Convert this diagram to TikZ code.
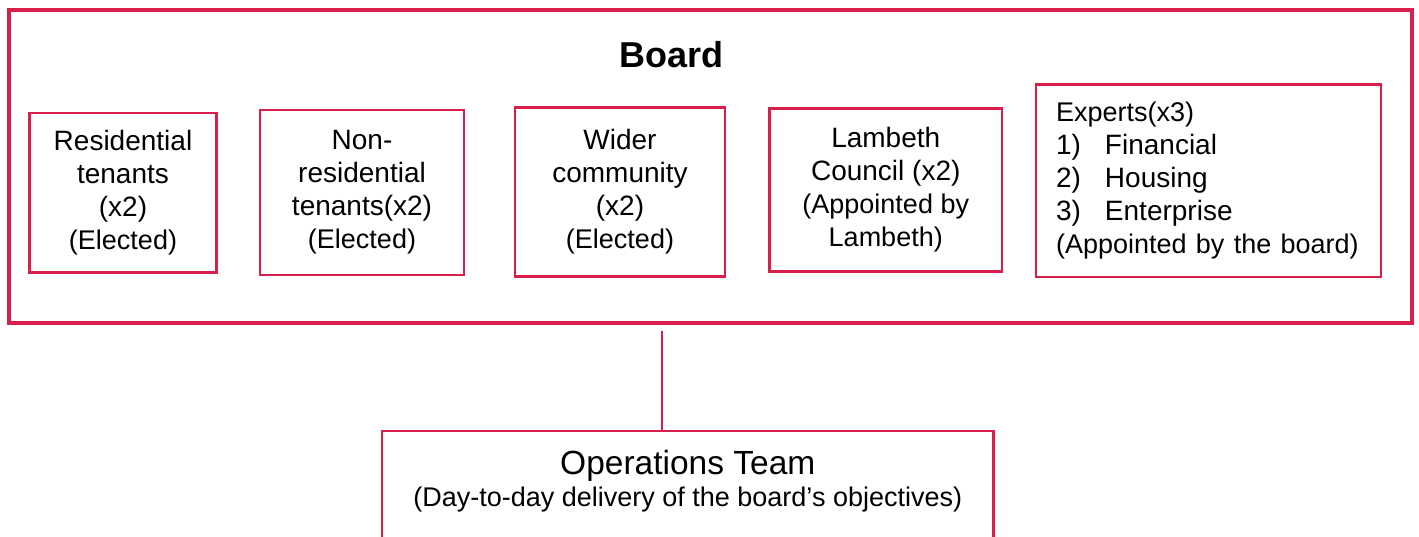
\documentclass[tikz,border=0pt]{standalone}
\usepackage{fontspec}
\setmainfont{Liberation Sans}

\definecolor{boardred}{RGB}{215,32,76}
\newcommand{\subtxt}[1]{{\fontsize{27}{33}\selectfont #1}}

\tikzset{
  seat/.style={draw=boardred, line width=2.8pt, align=center, inner sep=0pt, font=\fontsize{28}{33}\selectfont},
  outerbox/.style={draw=boardred, line width=3.5pt, inner sep=0pt},
  link/.style={draw=boardred, line width=2.5pt}
}

\begin{document}
\begin{tikzpicture}[x=1pt,y=-1pt]

%SPACING
\useasboundingbox (0,0) rectangle (1419,536);
%SPACING

\node[outerbox, minimum width=1403pt, minimum height=313pt](board) at (710.5,166.5) {};
\node[anchor=base, font=\fontsize{36}{40}\selectfont\bfseries](title) at (671.5,67) {Board};

\node[seat, minimum width=187pt, minimum height=159.5pt](v1) at (123,192.75) {Residential\\tenants\\(x2)\\\subtxt{(Elected)}};
\node[seat, minimum width=204pt, minimum height=165pt](v2) at (362,192.5) {Non-\\residential\\tenants(x2)\\\subtxt{(Elected)}};
\node[seat, minimum width=210pt, minimum height=169pt](v3) at (620,192) {Wider\\community\\(x2)\\\subtxt{(Elected)}};
\node[seat, minimum width=232.5pt, minimum height=163pt](v4) at (885.75,190) {Lambeth\\Council (x2)\\\subtxt{(Appointed by}\\\subtxt{Lambeth)}};
\node[seat, align=left, text width=305pt, inner xsep=20pt, minimum height=192.5pt](v5) at (1208.5,180.75) {\subtxt{Experts(x3)}\\\makebox[49pt][l]{1)}Financial\\\makebox[49pt][l]{2)}Housing\\\makebox[49pt][l]{3)}Enterprise\\\subtxt{(Appointed by the board)}};

%OPERATIONS
\node[seat, line width=2.7pt, anchor=north, minimum width=611.5pt, inner ysep=19pt](ops) at (687.75,429.7) {{\fontsize{33.5}{32}\selectfont Operations Team}\\[-1pt]\subtxt{(Day-to-day delivery of the board's objectives)}\rule[-60pt]{0pt}{0pt}};

\coordinate (tap) at (662,331);
\draw[link] (tap) -- (tap |- ops.north);

\end{tikzpicture}
\end{document}
